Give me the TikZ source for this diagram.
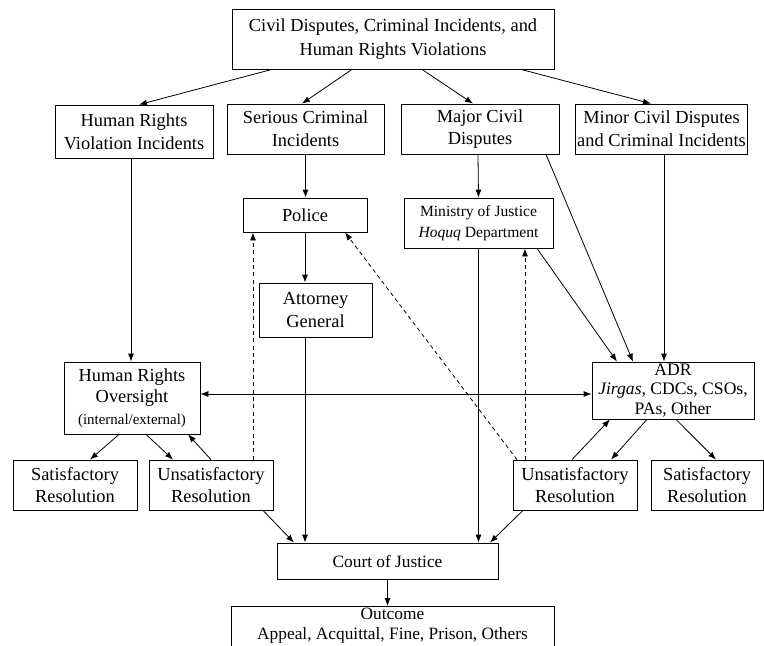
\documentclass[tikz,border=0pt]{standalone}
\usepackage{fontspec}
\setmainfont{Liberation Serif}
\usepackage{tikz}
\usetikzlibrary{arrows.meta}

\begin{document}
\begin{tikzpicture}[x=0.75pt,y=0.75pt,yscale=-1,xscale=1,
    box/.style={draw, line width=0.6pt, align=center, inner sep=1pt, font=\fontsize{13.8}{17}\selectfont},
    smallbox/.style={box, font=\fontsize{13}{15.5}\selectfont},
    arr/.style={-{Latex[length=6pt,width=4.5pt]}, line width=0.6pt},
    dbl/.style={{Latex[length=6pt,width=4.5pt]}-{Latex[length=6pt,width=4.5pt]}, line width=0.6pt},
    dsh/.style={arr, dash pattern=on 3pt off 2.5pt}]
        \useasboundingbox (0,0) rectangle (764,646);

        % Text Node
        \node[box, font=\fontsize{13.8}{18}\selectfont, minimum width=241.5pt, minimum height=45pt] (top) at (393,39) {Civil Disputes, Criminal Incidents, and\\Human Rights Violations};
        % Text Node
        \node[box, minimum width=118.5pt, minimum height=39.75pt] (hrv) at (134,131.5) {Human Rights\\Violation Incidents};
        \node[box, minimum width=117.75pt, minimum height=37.5pt] (sci) at (305.5,129) {Serious Criminal\\Incidents};
        \node[box, minimum width=118.5pt, minimum height=37.5pt] (mcd) at (480,129) {Major Civil\\Disputes};
        \node[box, minimum width=128.25pt, minimum height=37.5pt] (mnr) at (661.5,129) {Minor Civil Disputes\\and Criminal Incidents};
        % Text Node
        \node[box, minimum width=93pt, minimum height=25.5pt] (police) at (305,215) {Police};
        \node[box, font=\fontsize{11.7}{15.5}\selectfont, minimum width=111.75pt, minimum height=37.5pt] (moj) at (478.5,223) {Ministry of Justice\\\textit{Hoquq} Department};
        \node[box, minimum width=84.75pt, minimum height=40.5pt] (ag) at (315.5,310) {Attorney\\General};
        % Text Node
        \node[box, font=\fontsize{13.8}{16}\selectfont, minimum width=102pt, minimum height=54pt] (hro) at (132,398) {Human Rights\\Oversight\\{\fontsize{11.2}{12}\selectfont(internal/external)}};
        \node[box, font=\fontsize{13.2}{14.5}\selectfont, minimum width=121.5pt, minimum height=42.75pt] (adr) at (673,390.5) {ADR\\\textit{Jirgas}, CDCs, CSOs,\\PAs, Other};
        % Text Node
        \node[box, minimum width=93pt, minimum height=37.5pt] (satl) at (75,485) {Satisfactory\\Resolution};
        \node[box, minimum width=93pt, minimum height=37.5pt] (unsl) at (211,485) {Unsatisfactory\\Resolution};
        \node[box, minimum width=93pt, minimum height=37.5pt] (unsr) at (575,485) {Unsatisfactory\\Resolution};
        \node[box, minimum width=84pt, minimum height=37.5pt] (satr) at (707,485) {Satisfactory\\Resolution};
        % Text Node
        \node[smallbox, minimum width=165.75pt, minimum height=27pt] (court) at (387.5,561) {Court of Justice};
        \node[smallbox, anchor=north, minimum width=242.25pt, minimum height=45pt, text depth=20pt] (out) at (392.5,606) {Outcome\\Appeal, Acquittal, Fine, Prison, Others};

        %Straight Lines
        \draw[arr] ([shift={(-121,0)}]top.south) -- ([shift={(5,0)}]hrv.north);
        \draw[arr] ([shift={(-41,0)}]top.south) -- ([shift={(-3.5,0)}]sci.north);
        \draw[arr] ([shift={(29,0)}]top.south) -- ([shift={(-7,0)}]mcd.north);
        \draw[arr] ([shift={(128,0)}]top.south) -- ([shift={(-10.5,0)}]mnr.north);
        %Straight Lines
        \draw[arr] ([shift={(-3,0)}]hrv.south) -- ([shift={(-1,0)}]hro.north);
        \draw[arr] (sci.south) -- (sci.south |- police.north);
        \draw[arr] (police.south) -- (police.south |- ag.north);
        \draw[arr] (police.south |- ag.south) -- (police.south |- court.north);
        \draw[arr] ([shift={(-2,0)}]mcd.south) -- (moj.north);
        \draw[arr] ([shift={(66,0)}]mcd.south) -- ([shift={(-40,0)}]adr.north);
        \draw[arr] ([shift={(58.5,0)}]moj.south) -- ([shift={(-56,0)}]adr.north);
        \draw[arr] ([shift={(2.5,0)}]mnr.south) -- ([shift={(-9,0)}]adr.north);
        \draw[arr] (moj.south) -- (moj.south |- court.north);
        \draw[dbl] ([shift={(0,-4)}]hro.east) -- ([shift={(0,3.5)}]adr.west);
        %Straight Lines
        \draw[arr] ([shift={(-13,0)}]hro.south) -- ([shift={(15,0)}]satl.north);
        \draw[arr] ([shift={(14,0)}]hro.south) -- ([shift={(-38,0)}]unsl.north);
        \draw[arr] (unsl.north) -- ([shift={(56,0)}]hro.south);
        \draw[arr] ([shift={(-3,0)}]unsr.north) -- ([shift={(-63,0)}]adr.south);
        \draw[arr] ([shift={(-26,0)}]adr.south) -- ([shift={(36,0)}]unsr.north);
        \draw[arr] ([shift={(3,0)}]adr.south) -- ([shift={(9,0)}]satr.north);
        %Dashed Lines
        \draw[dsh] ([shift={(42,0)}]unsl.north) -- ([shift={(-52,0)}]police.south);
        \draw[dsh] ([shift={(-58,0)}]unsr.north) -- ([shift={(40,0)}]police.south);
        \draw[dsh] ([shift={(-50,0)}]unsr.north) -- ([shift={(46.5,0)}]moj.south);
        %Straight Lines
        \draw[arr] ([shift={(52,0)}]unsl.south) -- ([shift={(-93.5,0)}]court.north);
        \draw[arr] ([shift={(-52,0)}]unsr.south) -- ([shift={(102.5,0)}]court.north);
        \draw[arr] (court.south) -- (court.south |- out.north);
\end{tikzpicture}
\end{document}
